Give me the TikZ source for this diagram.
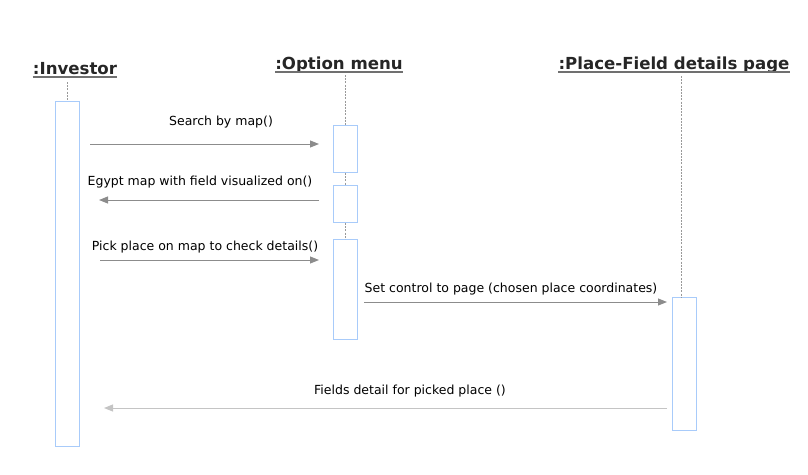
\documentclass[tikz,border=0pt]{standalone}
\usepackage{fontspec}
\setmainfont{DejaVu Sans}
\usetikzlibrary{arrows.meta}
\definecolor{actblue}{HTML}{A8CBFA}
\definecolor{msggray}{HTML}{8C8C8C}
\definecolor{msglight}{HTML}{C4C4C4}
\definecolor{lifegray}{HTML}{999999}
\definecolor{ulgray}{HTML}{707070}
\tikzset{
  header/.style={font=\bfseries\fontsize{16.6}{18}\selectfont, text=black!85, inner sep=0pt, anchor=base},
  hline/.style={draw=ulgray, line width=1.2pt},
  actbox/.style={draw=actblue, line width=1pt, fill=white, minimum width=24pt, inner sep=0pt, anchor=north},
  lifeline/.style={draw=lifegray, dashed, dash pattern=on 2pt off 1.2pt, line width=0.7pt},
  msg/.style={draw=msggray, line width=1pt, -{Triangle[length=9pt,width=7pt]}},
  msglabel/.style={font=\fontsize{12.5}{14}\selectfont, text=black, inner sep=0pt, anchor=base},
}
\begin{document}
\begin{tikzpicture}[x=1pt,y=-1pt]
\useasboundingbox (0,0) rectangle (808,474);
% headers
\node[header] (hinv) at (75,74) {:Investor};
\node[header] (hopt) at (339,69) {:Option menu};
\node[header] (hpf) at (674,69) {:Place-Field details page};
\foreach \h in {hinv,hopt,hpf}{
  \draw[hline] ([yshift=-3pt]\h.base -| \h.west) -- ([yshift=-3pt]\h.base -| \h.east);
}
% activation boxes
\node[actbox, minimum height=345pt] (ainv) at (67,101) {};
\node[actbox, minimum height=47pt] (aopt1) at (345.5,125) {};
\node[actbox, minimum height=37pt] (aopt2) at (345.5,185) {};
\node[actbox, minimum height=100pt] (aopt3) at (345.5,239) {};
\node[actbox, minimum height=133pt] (apf) at (684.5,297) {};
% lifelines
\coordinate (linv) at (67,82);
\coordinate (lopt) at (345.5,75);
\coordinate (lpf) at (681,76);
\draw[lifeline] (linv) -- (ainv.north);
\draw[lifeline] (lopt) -- (aopt1.north);
\draw[lifeline] (aopt1.south) -- (aopt2.north);
\draw[lifeline] (aopt2.south) -- (aopt3.north);
\draw[lifeline] (lpf) -- (lpf |- apf.north);
% messages
\coordinate (m1s) at (90,144);   \coordinate (m1e) at (319,144);
\coordinate (m2s) at (319,200);  \coordinate (m2e) at (99,200);
\coordinate (m3s) at (100,260);  \coordinate (m3e) at (319,260);
\coordinate (m4s) at (364,302);  \coordinate (m4e) at (667,302);
\coordinate (m5s) at (667,408);  \coordinate (m5e) at (104,408);
\draw[msg] (m1s) -- (m1e);
\draw[msg] (m2s) -- (m2e);
\draw[msg] (m3s) -- (m3e);
\draw[msg] (m4s) -- (m4e);
\draw[msg, draw=msglight] (m5s) -- (m5e);
\node[msglabel] (t1) at (221,125) {Search by map()};
\node[msglabel] (t2) at (200,185) {Egypt map with field visualized on()};
\node[msglabel] (t3) at (205,250) {Pick place on map to check details()};
\node[msglabel] (t4) at (511,292) {Set control to page (chosen place coordinates)};
\node[msglabel] (t5) at (410,394) {Fields detail for picked place ()};
\end{tikzpicture}
\end{document}
